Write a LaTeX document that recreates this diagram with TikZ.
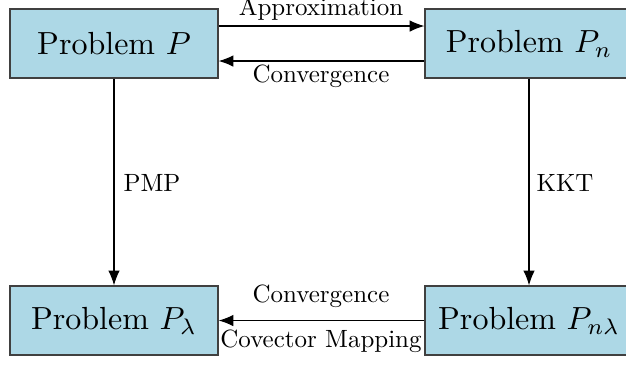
\documentclass[tikz,border=0pt]{standalone}
\usetikzlibrary{arrows.meta}
\begin{document}
\begin{tikzpicture}[x=0.3125pt,y=-0.3125pt,
  probbox/.style={draw=black!75,fill=lightbluefill,line width=0.4pt,minimum width=65pt,minimum height=21.6pt,inner sep=0pt,font=\normalsize},
  conn/.style={line width=0.35pt,-{Latex[length=4.6pt,width=3.6pt]}},
  lbl/.style={anchor=base,inner sep=0pt}]
\definecolor{lightbluefill}{HTML}{ADD8E6}
\clip (0,0) rectangle (626,364);
\useasboundingbox (0,0) rectangle (626,364);
\node[probbox] (P) at (114,43.5) {Problem $P$};
\node[probbox] (Pn) at (529,43.5) {Problem $P_n$};
\node[probbox] (Pl) at (114,320.5) {Problem $P_\lambda$};
\node[probbox] (Pnl) at (529,320.5) {Problem $P_{n\lambda}$};
\draw[conn] (P.east |- 0,26) -- (Pn.west |- 0,26);
\draw[conn] (Pn.west |- 0,61) -- (P.east |- 0,61);
\draw[conn] (P) -- (Pl);
\draw[conn] (Pn) -- (Pnl);
\draw[conn] (Pnl) -- (Pl);
\node[lbl] (la) at (321,15) {\scalebox{0.78}{Approximation}};
\node[lbl] (lc1) at (321,82) {\scalebox{0.78}{Convergence}};
\node[lbl] (lc2) at (321,302) {\scalebox{0.78}{Convergence}};
\node[lbl] (lcm) at (321,347) {\scalebox{0.78}{Covector Mapping}};
\node[lbl] (lp) at (152,191.5) {\scalebox{0.78}{PMP}};
\node[lbl] (lk) at (565,191.5) {\scalebox{0.78}{KKT}};
\end{tikzpicture}
\end{document}
